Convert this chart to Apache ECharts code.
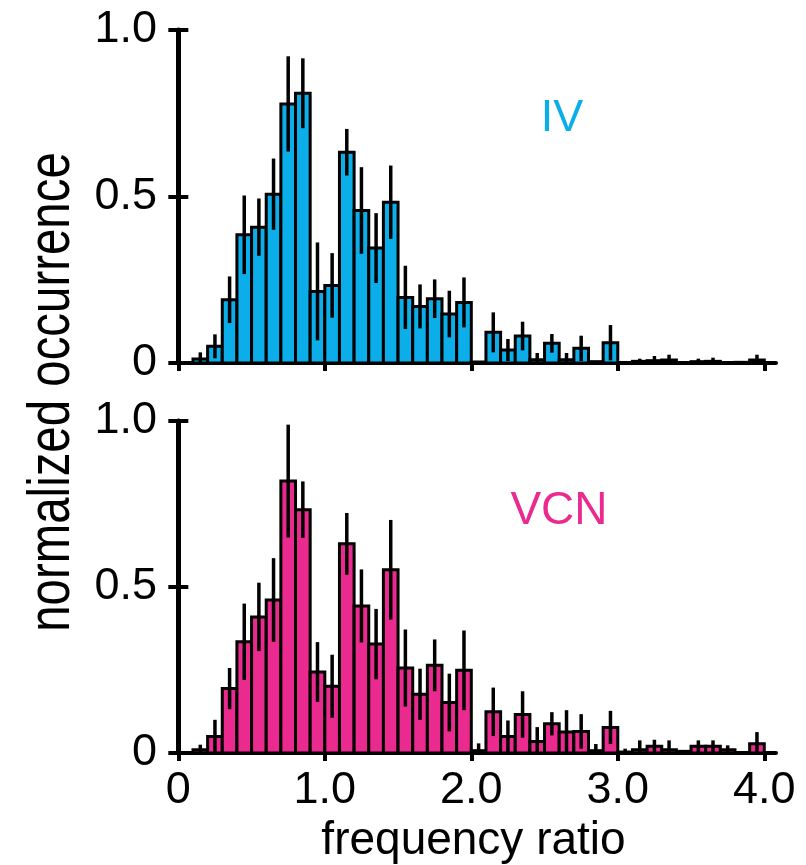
<!DOCTYPE html>
<html>
<head>
<meta charset="utf-8">
<script src="https://cdn.jsdelivr.net/npm/echarts@6/dist/echarts.min.js"></script>
<style>
  html, body { margin: 0; padding: 0; background: #fff; }
  #main { width: 806px; height: 865px; }
</style>
</head>
<body>
<div id="main"></div>
<script>
// bin centres, width 0.1
var binCenters = [0.05, 0.15, 0.25, 0.35, 0.45, 0.55, 0.65, 0.75, 0.85, 0.95,
                  1.05, 1.15, 1.25, 1.35, 1.45, 1.55, 1.65, 1.75, 1.85, 1.95,
                  2.05, 2.15, 2.25, 2.35, 2.45, 2.55, 2.65, 2.75, 2.85, 2.95,
                  3.05, 3.15, 3.25, 3.35, 3.45, 3.55, 3.65, 3.75, 3.85, 3.95];

var ivValues = [0, 0.012, 0.05, 0.19, 0.385, 0.408, 0.507, 0.778, 0.81, 0.215,
                0.233, 0.633, 0.458, 0.345, 0.483, 0.197, 0.17, 0.193, 0.147, 0.182,
                0.003, 0.092, 0.039, 0.081, 0.01, 0.059, 0.01, 0.044, 0.004, 0.061,
                0, 0.005, 0.007, 0.009, 0, 0.004, 0.005, 0, 0.002, 0.009];
var ivErrors = [0, 0.02, 0.036, 0.07, 0.118, 0.086, 0.107, 0.143, 0.105, 0.147,
                0.097, 0.07, 0.13, 0.105, 0.11, 0.095, 0.066, 0.058, 0.07, 0.075,
                0, 0.06, 0.033, 0.043, 0.02, 0.028, 0.02, 0.038, 0, 0.053,
                0, 0.008, 0.014, 0.016, 0, 0.009, 0.011, 0, 0, 0.016];

var vcnValues = [0, 0.01, 0.05, 0.194, 0.335, 0.41, 0.461, 0.819, 0.733, 0.244,
                 0.201, 0.63, 0.443, 0.328, 0.552, 0.256, 0.177, 0.264, 0.152, 0.249,
                 0.007, 0.124, 0.05, 0.116, 0.035, 0.088, 0.063, 0.065, 0.007, 0.077,
                 0.003, 0.01, 0.02, 0.01, 0.005, 0.02, 0.02, 0.01, 0, 0.028];
var vcnErrors = [0, 0.015, 0.05, 0.062, 0.115, 0.103, 0.126, 0.17, 0.085, 0.09,
                 0.095, 0.093, 0.11, 0.106, 0.15, 0.116, 0.077, 0.078, 0.087, 0.12,
                 0.022, 0.073, 0.048, 0.07, 0.043, 0.035, 0.066, 0.052, 0.02, 0.05,
                 0.01, 0.028, 0.02, 0.028, 0, 0.018, 0.018, 0.013, 0, 0.035];

var xTicks = [0, 1, 2, 3, 4];

var BLUE = '#0BAEE8';
var PINK = '#EA2A8E';
var FONT = 'Liberation Sans, Arial, sans-serif';

function makeData(vals, errs) {
    return binCenters.map(function (x, i) { return [x, vals[i], errs[i]]; });
}

function barRenderer(color) {
    return function (params, api) {
        var x = api.value(0), v = api.value(1), e = api.value(2);
        if (!(v > 0)) return null;
        var a = api.coord([x - 0.05, v]);
        var b = api.coord([x + 0.05, 0]);
        var children = [{
            type: 'rect',
            shape: { x: a[0], y: a[1], width: b[0] - a[0], height: b[1] - a[1] },
            style: { fill: color, stroke: '#000', lineWidth: 3 }
        }];
        if (e > 0) {
            var lo = api.coord([x, Math.max(0, v - e)]);
            var hi = api.coord([x, v + e]);
            children.push({
                type: 'line',
                shape: { x1: lo[0], y1: lo[1], x2: hi[0], y2: hi[1] },
                style: { stroke: '#000', lineWidth: 3.5 }
            });
        }
        return { type: 'group', children: children };
    };
}

function xAxisOpt(gridIndex, showLabels) {
    return {
        type: 'value', gridIndex: gridIndex, min: -0.05, max: 4.08,
        splitLine: { show: false },
        axisLine: { onZero: false, lineStyle: { color: '#000', width: 4 } },
        axisTick: { customValues: xTicks, length: 8, lineStyle: { color: '#000', width: 4 } },
        axisLabel: {
            show: showLabels, customValues: xTicks, margin: 15,
            color: '#000', fontSize: 45, fontFamily: FONT,
            formatter: function (v) { return v === 0 ? '0' : v.toFixed(1); }
        },
        name: showLabels ? 'frequency ratio' : '',
        nameLocation: 'middle', nameGap: 65,
        nameTextStyle: { color: '#000', fontSize: 46, fontFamily: FONT }
    };
}

function yAxisOpt(gridIndex, inner) {
    return {
        type: 'value', gridIndex: gridIndex, position: 'left', min: 0, max: 1, interval: 0.5,
        splitLine: { show: false },
        axisLine: { show: !inner, onZero: true, onZeroAxisIndex: gridIndex,
                    lineStyle: { color: '#000', width: 5 } },
        axisTick: { inside: inner, length: 10, lineStyle: { color: '#000', width: 4 } },
        axisLabel: {
            show: !inner, margin: 14, color: '#000', fontSize: 45, fontFamily: FONT,
            formatter: function (v) { return v === 0 ? '0' : v.toFixed(1); }
        }
    };
}

var chart = echarts.init(document.getElementById('main'));
chart.setOption({
    animation: false,
    backgroundColor: '#fff',
    grid: [
        { left: 171, right: 30, top: 30, height: 333 },
        { left: 171, right: 30, top: 421, height: 334 }
    ],
    xAxis: [xAxisOpt(0, false), xAxisOpt(1, true)],
    yAxis: [yAxisOpt(0, false), yAxisOpt(0, true), yAxisOpt(1, false), yAxisOpt(1, true)],
    graphic: [
        // condensed axis title, squeezed along its reading direction
        { type: 'text', x: 52, y: 392, rotation: Math.PI / 2, scaleX: 0.79,
          style: { text: 'normalized occurrence', fill: '#000', align: 'center', verticalAlign: 'middle',
                   font: '60px "Liberation Sans", Arial, sans-serif' } },
        { type: 'text', x: 562, y: 119,
          style: { text: 'IV', fill: BLUE, align: 'center', verticalAlign: 'middle',
                   font: '45px "Liberation Sans", Arial, sans-serif' } },
        { type: 'text', x: 559, y: 511,
          style: { text: 'VCN', fill: PINK, align: 'center', verticalAlign: 'middle',
                   font: '46px "Liberation Sans", Arial, sans-serif' } }
    ],
    series: [
        { name: 'IV', type: 'custom', xAxisIndex: 0, yAxisIndex: 0,
          renderItem: barRenderer(BLUE), encode: { x: 0, y: 1 },
          data: makeData(ivValues, ivErrors) },
        { name: 'VCN', type: 'custom', xAxisIndex: 1, yAxisIndex: 2,
          renderItem: barRenderer(PINK), encode: { x: 0, y: 1 },
          data: makeData(vcnValues, vcnErrors) }
    ]
});
</script>
</body>
</html>
